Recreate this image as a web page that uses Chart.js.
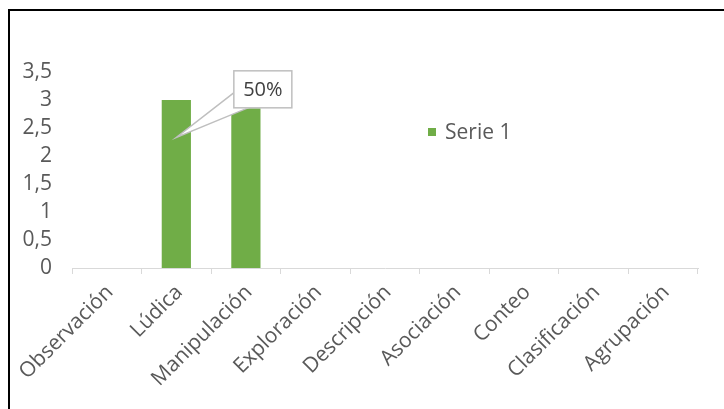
<!DOCTYPE html>
<html>
<head>
<meta charset="utf-8">
<script src="https://cdn.jsdelivr.net/npm/chart.js@4.4.1/dist/chart.umd.min.js"></script>
<style>
  html, body { margin: 0; padding: 0; background: #fff; }
  #wrap { position: relative; width: 724px; height: 409px; overflow: hidden; }
  #frame { position: absolute; left: 8px; top: 9px; width: 740px; height: 420px;
           border-left: 2px solid #000; border-top: 2px solid #000; pointer-events: none; }
  canvas { position: absolute; left: 0; top: 0; }
</style>
</head>
<body>
<div id="wrap">
  <canvas id="c" width="724" height="409"></canvas>
  <div id="frame"></div>
</div>
<script>
const categories = ["Observación", "Lúdica", "Manipulación", "Exploración", "Descripción", "Asociación", "Conteo", "Clasificación", "Agrupación"];
const seriesName = "Serie 1";
const seriesValues = [0, 3, 3, 0, 0, 0, 0, 0, 0];
const yTicks = [0, 0.5, 1, 1.5, 2, 2.5, 3, 3.5];
const labelText = "50%";
const labelIndex = 1;

const FONT = "'Open Sans', sans-serif";
const TEXT = "#595959";
const FS = 21;

const calloutPlugin = {
  id: 'callout',
  afterDatasetsDraw(chart) {
    const ctx = chart.ctx;
    const meta = chart.getDatasetMeta(0);
    const bar = meta.data[labelIndex];
    const y = chart.scales.y;
    const px = bar.x;
    const py = y.getPixelForValue(2.33);
    const bx = px + 57, by = y.getPixelForValue(3.53), bw = 59, bh = 38;
    ctx.save();
    ctx.beginPath();
    ctx.moveTo(bx + 1, by + 22);
    ctx.lineTo(px, py);
    ctx.lineTo(bx + 16, by + bh - 1);
    ctx.closePath();
    ctx.fillStyle = '#fff';
    ctx.fill();
    ctx.strokeStyle = '#bfbfbf';
    ctx.lineWidth = 1.5;
    ctx.stroke();
    ctx.fillStyle = '#fff';
    ctx.fillRect(bx, by, bw, bh);
    ctx.strokeRect(bx + 0.5, by + 0.5, bw - 1, bh - 1);
    ctx.fillStyle = '#404040';
    ctx.font = "20px " + FONT;
    ctx.textAlign = 'center';
    ctx.textBaseline = 'middle';
    ctx.fillText(labelText, bx + bw / 2, by + bh / 2 + 1);
    ctx.restore();
  }
};

const legendPlugin = {
  id: 'customLegend',
  afterDraw(chart) {
    const ctx = chart.ctx;
    const ds = chart.data.datasets[0];
    const x = 428, yc = 132;
    ctx.save();
    ctx.fillStyle = ds.backgroundColor;
    ctx.fillRect(x, yc - 4, 8, 8);
    ctx.fillStyle = TEXT;
    ctx.font = FS + "px " + FONT;
    ctx.textAlign = 'left';
    ctx.textBaseline = 'middle';
    ctx.fillText(ds.label, x + 17, yc + 1);
    ctx.restore();
  }
};

new Chart(document.getElementById('c'), {
  type: 'bar',
  data: {
    labels: categories,
    datasets: [{
      label: seriesName,
      data: seriesValues,
      backgroundColor: '#70ad47',
      borderWidth: 0,
      categoryPercentage: 1,
      barPercentage: 0.42
    }]
  },
  options: {
    responsive: false,
    animation: false,
    devicePixelRatio: 1,
    layout: { padding: { left: 0, right: 26, top: 72, bottom: 0 } },
    plugins: { legend: { display: false }, tooltip: { enabled: false } },
    scales: {
      x: {
        grid: { display: true, drawOnChartArea: false, drawTicks: true, tickLength: 6, color: '#d9d9d9', lineWidth: 1, offset: true },
        border: { display: true, color: '#d9d9d9', width: 1 },
        ticks: { color: TEXT, font: { family: FONT, size: FS }, minRotation: 45, maxRotation: 45, padding: 6, labelOffset: 3, autoSkip: false },
        afterFit(s) { s.height = 141; }
      },
      y: {
        min: 0, max: 3.5,
        grid: { display: false, drawTicks: false, tickLength: 0 },
        border: { display: false },
        afterBuildTicks(s) { s.ticks = yTicks.map(v => ({ value: v })); },
        ticks: { color: TEXT, font: { family: FONT, size: FS }, padding: 20, autoSkip: false,
                 callback: v => String(v).replace('.', ',') },
        afterFit(s) { s.width = 72; }
      }
    }
  },
  plugins: [calloutPlugin, legendPlugin]
});
</script>
</body>
</html>
